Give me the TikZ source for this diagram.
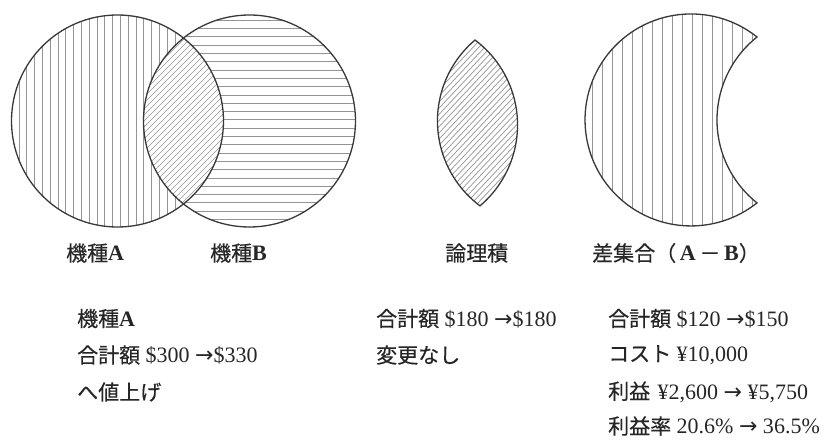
\documentclass[tikz,border=0pt]{standalone}
\usepackage{fontspec}
\setmainfont{Liberation Serif}
\newfontfamily\jp{Noto Sans CJK JP}[Scale=0.955,FakeBold=0.4]
\newfontfamily\arrfont{DejaVu Sans}
\newcommand{\jpt}[1]{{\jp #1}}
\newcommand{\rarr}{{\arrfont →}}
\tikzset{
  outline/.style={draw=black!78, line width=1.3pt},
  hatch/.style={draw=black!42, line width=0.7pt},
  lbl/.style={anchor=west, inner sep=0pt, text=black!85, font=\fontsize{22}{26}\selectfont},
}
\begin{document}
\begin{tikzpicture}[x=1pt,y=1pt]
\useasboundingbox (0,0) rectangle (824,439);
\coordinate (ca) at (117.5,318);
\coordinate (cb) at (249.5,318);
% A minus B : vertical hatching
\begin{scope}
  \clip (ca) circle[radius=106pt];
  \begin{scope}[even odd rule]
    \clip (ca) circle[radius=106pt] (cb) circle[radius=106pt];
    \foreach \x in {19,26.8,...,230} \draw[hatch] (\x,200) -- (\x,430);
  \end{scope}
\end{scope}
% B minus A : horizontal hatching
\begin{scope}
  \clip (cb) circle[radius=106pt];
  \begin{scope}[even odd rule]
    \clip (ca) circle[radius=106pt] (cb) circle[radius=106pt];
    \foreach \y in {203,211.3,...,430} \draw[hatch] (130,\y) -- (370,\y);
  \end{scope}
\end{scope}
% A and B : diagonal hatching
\begin{scope}
  \clip (ca) circle[radius=106pt];
  \clip (cb) circle[radius=106pt];
  \foreach \x in {-64,-58,...,200} \draw[hatch] (\x,200) -- ++(240,240);
\end{scope}
\draw[outline] (ca) circle[radius=106pt];
\draw[outline] (cb) circle[radius=106pt];

% logical product (lens)
\begin{scope}[shift={(477.5,316)}, rotate=1.7]
  \begin{scope}
    \clip (0,83) arc[start angle=128.5,end angle=231.5,radius=106pt]
          arc[start angle=-51.5,end angle=51.5,radius=106pt] -- cycle;
    \foreach \x in {-216,-210,...,40} \draw[hatch] (\x,-90) -- ++(200,200);
  \end{scope}
  \draw[outline] (0,83) arc[start angle=128.5,end angle=231.5,radius=106pt]
        arc[start angle=-51.5,end angle=51.5,radius=106pt] -- cycle;
\end{scope}

% difference A - B (crescent)
\begin{scope}
  \clip (757,402) arc[start angle=51.5,end angle=308.5,radius=106pt]
        arc[start angle=231.5,end angle=128.5,radius=106pt] -- cycle;
  \foreach \x in {592,602,...,780} \draw[hatch] (\x,200) -- (\x,439);
\end{scope}
\draw[outline] (757,402) arc[start angle=51.5,end angle=308.5,radius=106pt]
      arc[start angle=231.5,end angle=128.5,radius=106pt] -- cycle;

% labels
\node[lbl] (labA) at (66,186) {\jpt{機種}\textbf{A}};
\node[lbl] (labB) at (210,186) {\jpt{機種}\textbf{B}};
\node[lbl] (labAnd) at (445,186) {\jpt{論理積}};
\node[lbl] (labDiff) at (592,186) {\jpt{差集合（}\,\textbf{A}\,\jpt{－}\,\textbf{B}\jpt{）}};

\node[lbl] (a1) at (77,120.5) {\jpt{機種}\textbf{A}};
\node[lbl] (a2) at (77,84) {\jpt{合計額} \$300 \rarr\$330};
\node[lbl] (a3) at (77,47) {\jpt{へ値上げ}};

\node[lbl] (b1) at (376,120.5) {\jpt{合計額} \$180 \rarr\$180};
\node[lbl] (b2) at (376,84) {\jpt{変更なし}};

\node[lbl] (c1) at (608,120.5) {\jpt{合計額} \$120 \rarr\$150};
\node[lbl] (c2) at (608,84) {\jpt{コスト} ¥10,000};
\node[lbl] (c3) at (608,47) {\jpt{利益}\hspace{2pt} ¥2,600 \rarr{} ¥5,750};
\node[lbl] (c4) at (608,13) {\jpt{利益率} 20.6\% \rarr{} 36.5\%};
\end{tikzpicture}
\end{document}
